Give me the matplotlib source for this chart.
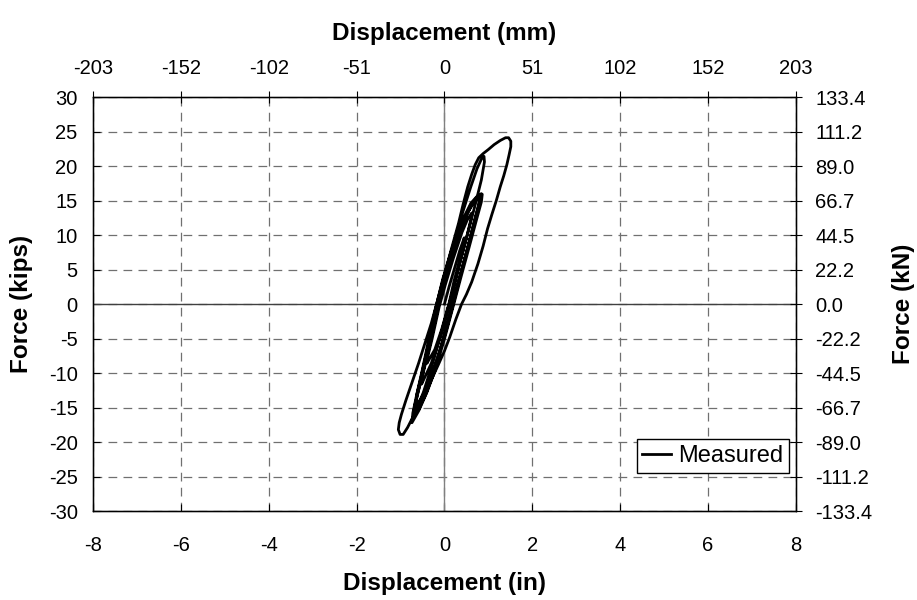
import matplotlib.pyplot as plt

plt.rcParams['font.family'] = ['Liberation Sans', 'DejaVu Sans']
plt.rcParams['axes.unicode_minus'] = False

# measured hysteresis (displacement in inches, force in kips)
disp_in = [
    # cycle 1
    0.00, 0.10, 0.22, 0.35, 0.45,
    0.44, 0.36, 0.22, 0.10, -0.06, -0.22, -0.40,
    # cycle 2
    -0.38, -0.28, -0.12, 0.02, 0.20, 0.40, 0.52, 0.62,
    0.60, 0.50, 0.34, 0.16, 0.08, -0.10, -0.30, -0.52,
    # cycle 3
    -0.50, -0.40, -0.30, -0.16, -0.04, 0.16, 0.40, 0.62, 0.80,
    0.78, 0.66, 0.50, 0.34, 0.20, 0.04, -0.16, -0.36, -0.52, -0.66,
    # cycle 4
    -0.62, -0.52, -0.40, -0.26, -0.10, 0.08, 0.30, 0.52, 0.70, 0.82,
    0.80, 0.68, 0.52, 0.32, 0.14, -0.06, -0.26, -0.46, -0.64,
    # cycle 5
    -0.64, -0.54, -0.44, -0.32, -0.18, 0.00, 0.20, 0.42, 0.62, 0.76, 0.86,
    0.84, 0.72, 0.56, 0.38, 0.22, 0.02, -0.20, -0.40, -0.58, -0.74,
    # cycle 6
    -0.72, -0.62, -0.50, -0.36, -0.20, -0.04, 0.16, 0.38, 0.60, 0.74, 0.84,
    0.82, 0.70, 0.54, 0.36, 0.18, -0.02, -0.22, -0.42, -0.58, -0.70,
    # cycle 7
    -0.68, -0.56, -0.42, -0.28, -0.14, 0.02, 0.22, 0.42, 0.60, 0.74, 0.84, 0.90,
    0.91, 0.84, 0.70, 0.52, 0.34, 0.16, -0.04, -0.26, -0.48, -0.68, -0.84, -0.94,
    -1.01, -1.05,
    # cycle 8 (outer loop)
    -1.03, -0.98, -0.88, -0.75, -0.59, -0.45, -0.30, -0.18, -0.02, 0.15, 0.32,
    0.43, 0.53, 0.62, 0.70, 0.78, 0.88, 1.00, 1.13, 1.27, 1.39, 1.46, 1.51,
    1.51, 1.47, 1.42, 1.35, 1.27, 1.18, 1.08, 0.98, 0.88, 0.76, 0.62, 0.50,
    0.39, 0.26, 0.12, 0.00, -0.14, -0.30, -0.44, -0.56,
]
force_kips = [
    # cycle 1
    0.0, 2.4, 5.0, 7.8, 9.6,
    8.8, 6.6, 3.4, 0.0, -3.6, -6.6, -8.6,
    # cycle 2
    -7.6, -5.0, -0.4, 2.8, 6.6, 10.4, 12.2, 13.2,
    12.2, 9.6, 5.8, 1.2, -0.6, -4.8, -8.6, -11.6,
    # cycle 3
    -10.4, -7.8, -5.0, -1.0, 2.4, 7.0, 11.4, 14.4, 15.6,
    14.4, 11.4, 7.4, 3.6, 0.0, -3.8, -8.0, -11.4, -13.6, -14.8,
    # cycle 4
    -13.2, -10.6, -7.2, -3.4, 0.8, 5.0, 9.6, 13.2, 15.0, 15.8,
    14.8, 12.0, 8.0, 3.2, -1.2, -5.8, -9.8, -13.0, -15.0,
    # cycle 5
    -13.4, -10.8, -8.0, -4.6, -0.4, 4.2, 8.4, 12.0, 14.6, 15.6, 15.9,
    14.8, 12.0, 8.2, 4.0, 0.2, -4.6, -9.4, -12.8, -15.4, -17.2,
    # cycle 6
    -15.8, -12.8, -9.4, -5.2, -0.6, 3.6, 7.8, 11.8, 14.6, 15.6, 16.0,
    15.0, 12.2, 8.4, 4.2, 0.0, -4.8, -9.6, -13.0, -15.2, -16.0,
    # cycle 7
    -14.8, -11.8, -8.0, -4.0, 0.0, 4.2, 9.0, 13.4, 17.0, 19.6, 21.0, 21.4,
    20.6, 18.0, 14.4, 10.0, 5.6, 1.2, -3.6, -8.4, -12.8, -15.9, -17.9, -18.9,
    -18.9, -18.2,
    # cycle 8 (outer loop)
    -17.2, -16.0, -14.0, -11.6, -8.6, -5.8, -2.8, 0.0, 3.8, 7.8, 11.7,
    14.6, 17.0, 18.8, 20.2, 21.2, 21.8, 22.4, 23.1, 23.7, 24.1, 24.1, 23.6,
    22.8, 21.6, 20.2, 18.6, 17.0, 15.0, 13.0, 10.9, 8.4, 5.8, 3.2, 1.4,
    0.0, -2.2, -4.8, -6.8, -8.8, -11.0, -13.0, -14.8,
]

x_ticks_in = [-8, -6, -4, -2, 0, 2, 4, 6, 8]
x_labels_mm = ['-203', '-152', '-102', '-51', '0', '51', '102', '152', '203']
y_ticks_kips = [-30, -25, -20, -15, -10, -5, 0, 5, 10, 15, 20, 25, 30]
y_labels_kn = ['-133.4', '-111.2', '-89.0', '-66.7', '-44.5', '-22.2', '0.0',
               '22.2', '44.5', '66.7', '89.0', '111.2', '133.4']

fig = plt.figure(figsize=(9.17, 6), dpi=100)
ax = fig.add_axes([0.1014, 0.1483, 0.7666, 0.69])

ax.plot(disp_in, force_kips, color='black', lw=2.0, label='Measured')
ax.axhline(0, color='#404040', lw=1.0, zorder=1.6)
ax.axvline(0, color='#808080', lw=1.0, zorder=1.6)

ax.set_xlim(-8, 8)
ax.set_ylim(-30, 30)
ax.set_xticks(x_ticks_in)
ax.set_yticks(y_ticks_kips)
ax.grid(True, color='#707070', lw=0.9, linestyle=(0, (7, 5)))
ax.tick_params(axis='both', direction='in', length=5, labelsize=14.5, width=0.8)
ax.tick_params(axis='x', pad=18)
ax.tick_params(axis='y', pad=11)

for sp in ax.spines.values():
    sp.set_linewidth(1.0)

ax_top = ax.twiny()
ax_top.set_xlim(-8, 8)
ax_top.set_xticks(x_ticks_in)
ax_top.set_xticklabels(x_labels_mm)
ax_top.tick_params(direction='inout', length=8, labelsize=14.5, pad=10, width=0.8)

ax_right = ax.twinx()
ax_right.set_ylim(-30, 30)
ax_right.set_yticks(y_ticks_kips)
ax_right.set_yticklabels(y_labels_kn)
ax_right.tick_params(direction='inout', length=8, labelsize=14.5, pad=10, width=0.8)

ax.set_xlabel('Displacement (in)', fontsize=17.5, fontweight='bold')
ax.set_ylabel('Force (kips)', fontsize=17.5, fontweight='bold')
ax_top.set_xlabel('Displacement (mm)', fontsize=17.5, fontweight='bold')
ax_right.set_ylabel('Force (kN)', fontsize=17.5, fontweight='bold')
ax.xaxis.set_label_coords(0.5, -0.147)
ax.yaxis.set_label_coords(-0.085, 0.5)
ax_top.xaxis.set_label_coords(0.5, 1.138)
ax_right.yaxis.set_label_coords(1.137, 0.5)

leg = ax.legend(loc='lower right', bbox_to_anchor=(0.990, 0.0918), fontsize=17,
                frameon=True, fancybox=False, framealpha=1, edgecolor='black',
                borderpad=0.25, handlelength=1.2, handletextpad=0.3,
                borderaxespad=0)
leg.get_frame().set_linewidth(1.0)

plt.savefig('out.png', dpi=100)
